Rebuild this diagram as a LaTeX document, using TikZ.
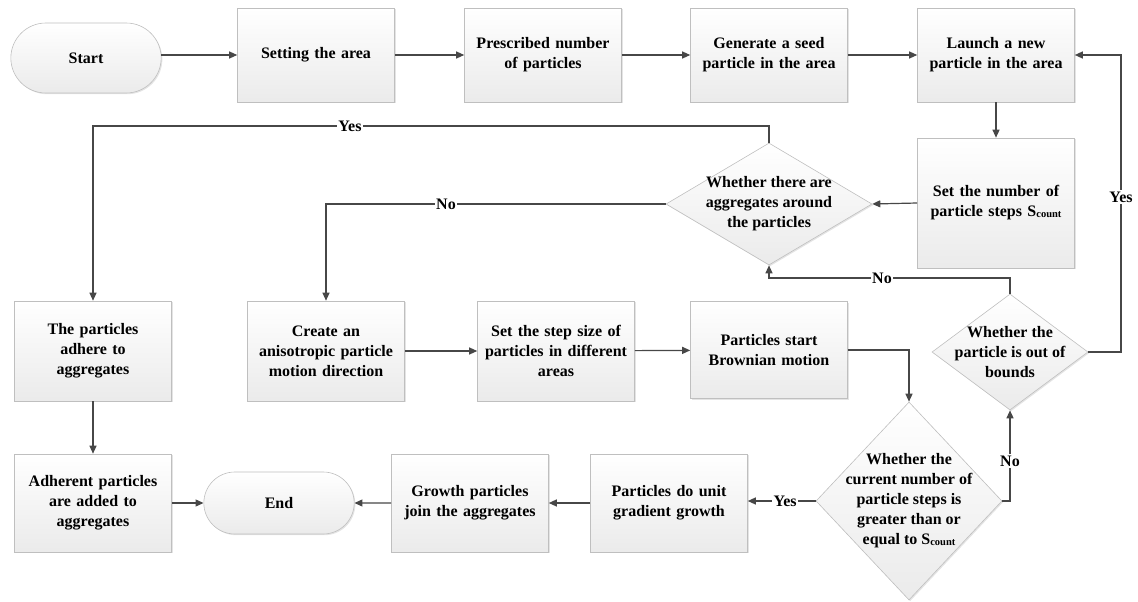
\documentclass[tikz,border=0pt]{standalone}
\usepackage{fontspec}
\setmainfont{Liberation Serif}
\usetikzlibrary{shapes.geometric,shapes.misc,shadows,arrows.meta}
\newcommand{\Scnt}{S\raisebox{-0.6pt}{\fontsize{10.5}{10}\selectfont count}}
\begin{document}
\begin{tikzpicture}[x=1pt,y=-1pt,
  every node/.style={font=\fontsize{16}{20}\selectfont\bfseries},
  boxn/.style={rectangle, draw=gray!50, line width=0.6pt, top color=white, bottom color=gray!16,
     minimum width=157, minimum height=98, text width=156, align=center, inner sep=0.5pt,
     drop shadow={fill=gray!35, shadow xshift=1.2pt, shadow yshift=-1.2pt, opacity=0.6}},
  termn/.style={rounded rectangle, draw=gray!50, line width=0.6pt, top color=white, bottom color=gray!16,
     minimum width=157, minimum height=70, align=center,
     drop shadow={fill=gray!35, shadow xshift=1.2pt, shadow yshift=-1.2pt, opacity=0.6}},
  dian/.style={diamond, draw=gray!50, line width=0.6pt, top color=white, bottom color=gray!16, inner sep=0pt,
     drop shadow={fill=gray!35, shadow xshift=1.2pt, shadow yshift=-1.2pt, opacity=0.6}},
  dtext/.style={align=center, inner sep=0pt},
  conn/.style={draw=black!72, line width=1.2pt, -{Triangle[length=8pt,width=7pt]}},
  lbl/.style={fill=white, inner sep=1.5pt}
]
\useasboundingbox (0,0) rectangle (1138,602);

% top row
\node[termn] (start) at (86,58) {Start};
\node[boxn, minimum height=94] (set) at (316,55) {Setting the area};
\node[boxn, minimum height=94] (presc) at (543,55) {Prescribed number\\of particles};
\node[boxn, minimum height=94] (seed) at (769,55) {Generate a seed\\particle in the area};
\node[boxn, minimum height=94] (launch) at (996,55) {Launch a new\\particle in the area};

% second row
\node[boxn, minimum height=130] (steps) at (996,203) {Set the number of\\particle steps \Scnt};
\node[dian, minimum width=206, minimum height=122] (d1) at (769,204) {};
\node[dtext] at (d1) {Whether there are\\aggregates around\\the particles};

% third row
\node[boxn, minimum height=100] (adhere) at (93,351) {The particles\\adhere to\\aggregates};
\node[boxn, minimum height=100] (create) at (326,351) {Create an\\anisotropic particle\\motion direction};
\node[boxn, minimum height=100] (stepsize) at (556,351) {Set the step size of\\particles in different\\areas};
\node[boxn, minimum height=97] (brown) at (769,350) {Particles start\\Brownian motion};
\node[dian, minimum width=156, minimum height=116] (d2) at (1010,352) {};
\node[dtext] at (d2) {Whether the\\particle is out of\\bounds};

% bottom row
\node[boxn] (adherent) at (93,503) {Adherent particles\\are added to\\aggregates};
\node[termn, minimum height=62] (endn) at (279,503) {End};
\node[boxn] (growth) at (470,503) {Growth particles\\join the aggregates};
\node[boxn] (unit) at (669,503) {Particles do unit\\gradient growth};
\node[dian, minimum width=186, minimum height=198] (d3) at (909,501) {};
\node[dtext] at (d3) {Whether the\\current number of\\particle steps is\\greater than or\\equal to \Scnt};

% connectors
\draw[conn] (start.east |- set.west) -- (set.west);
\draw[conn] (set) -- (presc);
\draw[conn] (presc) -- (seed);
\draw[conn] (seed) -- (launch);
\draw[conn] (launch) -- (steps);
\draw[conn] (steps.west) -- (d1.east);
\draw[conn] (d1.north) |- (350,126) node[lbl]{Yes} -| (adhere.north);
\draw[conn] (d1.west) -- (446,204) node[lbl]{No} -| (create.north);
\draw[conn] (create) -- (stepsize);
\draw[conn] (stepsize) -- (brown);
\draw[conn] (brown.east) -| (d3.north);
\draw[conn] (d3.west) -- node[lbl, pos=0.45]{Yes} (unit.east |- d3.west);
\draw[conn] (unit) -- (growth);
\draw[conn] (growth) -- (endn);
\draw[conn] (adhere) -- (adherent);
\draw[conn] (adherent) -- (endn);
\draw[conn] (d3.east) -| node[lbl, pos=0.72]{No} (d2.south);
\draw[conn] (d2.north) |- (882,278) node[lbl]{No} -| (d1.south);
\draw[conn] (d2.east) -| (1121,197) node[lbl]{Yes} |- (launch.east);
\end{tikzpicture}
\end{document}
